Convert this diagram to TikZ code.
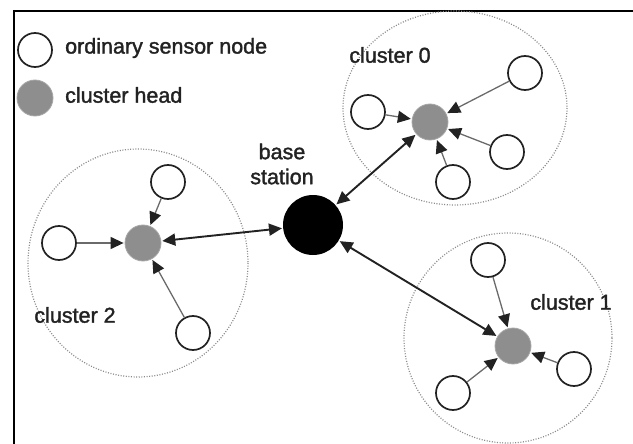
\documentclass[tikz,border=0pt]{standalone}
\usepackage{fontspec}
\setmainfont{Liberation Sans}[FakeBold=1.6]
\usetikzlibrary{arrows.meta}
\definecolor{Ink}{HTML}{222222}
\definecolor{HeadF}{HTML}{8E8E8E}
\definecolor{HeadR}{HTML}{A6A6A6}
\definecolor{Link}{HTML}{6A6A6A}
\definecolor{Rim}{HTML}{8A8A8A}

\begin{document}
\begin{tikzpicture}[x=1pt,y=-1pt,
    font=\fontsize{21.5}{25}\selectfont,
    sensor/.style={circle,draw=Ink,fill=white,line width=1.7pt,
      minimum size=34pt,inner sep=0pt},
    head/.style={circle,draw=HeadR,fill=HeadF,line width=0.8pt,
      minimum size=36pt,inner sep=0pt},
    base/.style={circle,fill=black,minimum size=60pt,inner sep=0pt},
    lbl/.style={inner sep=0pt,text=Ink,align=center},
    area/.style={draw=Rim,line width=1.2pt,dash pattern=on 1pt off 1.6pt},
    feed/.style={->,draw=Link,line width=1.3pt,shorten >=1pt},
    link/.style={<->,draw=Ink,line width=1.9pt,shorten >=1pt,shorten <=1pt},
    >={Triangle[length=13pt,width=12pt,color=Ink]}]
  \useasboundingbox (0,0) rectangle (633,444);
  % frame
  \draw[line width=2.6pt] (14,460) |- (650,11);
  % legend
  \node[sensor] (Lsen) at (35,50) {};
  \node[head] (Lhead) at (35,98) {};
  \node[lbl,anchor=west] at (65,48) {ordinary sensor node};
  \node[lbl,anchor=west] at (65,95) {cluster head};
  % cluster areas
  \draw[area] (455,108) ellipse (112 and 97);
  \draw[area] (508,338) ellipse (104 and 105);
  \draw[area] (138,263) ellipse (110 and 114);
  % base station
  \node[base] (BS) at (313,225) {};
  \node[lbl] at (282,164) {base\\station};
  % cluster 0
  \node[head] (H0) at (430,122) {};
  \node[sensor] (A0) at (368,112) {};
  \node[sensor] (B0) at (525,73) {};
  \node[sensor] (C0) at (507,152) {};
  \node[sensor] (D0) at (453,182) {};
  \node[lbl] at (390,55) {cluster 0};
  % cluster 1
  \node[head] (H1) at (513,346) {};
  \node[sensor] (A1) at (488,260) {};
  \node[sensor] (B1) at (574,369) {};
  \node[sensor] (C1) at (453,393) {};
  \node[lbl] at (571,302) {cluster 1};
  % cluster 2
  \node[head] (H2) at (143,243) {};
  \node[sensor] (A2) at (59,243) {};
  \node[sensor] (B2) at (168,182) {};
  \node[sensor] (C2) at (193,333) {};
  \node[lbl] at (75,315) {cluster 2};
  % members to heads
  \foreach \s in {A0,B0,C0,D0} \draw[feed] (\s) -- (H0);
  \foreach \s in {A1,B1,C1} \draw[feed] (\s) -- (H1);
  \foreach \s in {A2,B2,C2} \draw[feed] (\s) -- (H2);
  % heads to base station
  \draw[link] (H0) -- (BS);
  \draw[link] (H1) -- (BS);
  \draw[link] (H2) -- (BS);
\end{tikzpicture}
\end{document}
